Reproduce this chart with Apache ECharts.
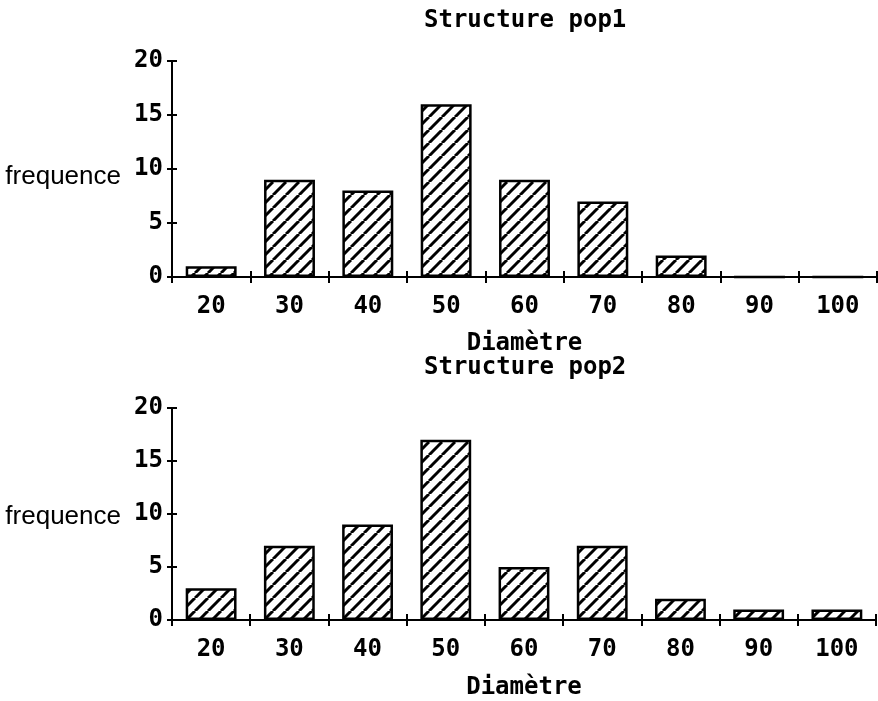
<!DOCTYPE html>
<html>
<head>
<meta charset="utf-8">
<script src="https://cdn.jsdelivr.net/npm/echarts@6/dist/echarts.min.js"></script>
<style>
  html, body { margin: 0; padding: 0; background: #fff; }
  #chart { width: 878px; height: 701px; }
</style>
</head>
<body>
<div id="chart"></div>
<script>
// Diameter classes and frequency counts for the two populations
const diametres = ['20', '30', '40', '50', '60', '70', '80', '90', '100'];
const pop1 = [1, 9, 8, 16, 9, 7, 2, 0, 0];
const pop2 = [3, 7, 9, 17, 5, 7, 2, 1, 1];
const titres = ['Structure pop1', 'Structure pop2'];
const nomX = 'Diamètre';
const nomY = 'frequence';

const MONO = '"DejaVu Sans Mono", monospace';

// Diagonal "/" hatch tile used to fill the bars
function hatchTile() {
  const s = 13;
  const c = document.createElement('canvas');
  c.width = s; c.height = s;
  const g = c.getContext('2d');
  g.fillStyle = '#fff';
  g.fillRect(0, 0, s, s);
  g.strokeStyle = '#000';
  g.lineWidth = 3;
  for (let k = -1; k <= 1; k++) {
    g.beginPath();
    g.moveTo(k * s, s);
    g.lineTo(k * s + s, 0);
    g.stroke();
  }
  return c;
}
const hatch = { image: hatchTile(), repeat: 'repeat' };

const grids = [
  { left: 172, right: 1, top: 61, height: 216 },
  { left: 172, right: 2, top: 408, height: 214 }
];

const xAxes = [], yAxes = [], series = [], titles = [];
const datasets = [pop1, pop2];
const nameGaps = [55, 56];
const yNameLH = [16, 6];
const titleTops = [8, 355];
const hidden = { show: true, lineStyle: { color: 'rgba(0,0,0,0)', width: 0 } };

grids.forEach((gr, i) => {
  // main category axis: line, outward ticks, labels, name
  xAxes.push({
    type: 'category', gridIndex: i, data: diametres, position: 'bottom',
    axisLine: { show: true, lineStyle: { color: '#000', width: 2 } },
    axisTick: { show: true, length: 6, lineStyle: { color: '#000', width: 2 } },
    axisLabel: { color: '#000', fontFamily: MONO, fontWeight: 'bold', fontSize: 24, margin: 18 },
    splitLine: { show: false },
    name: nomX, nameLocation: 'middle', nameGap: nameGaps[i],
    nameTextStyle: { color: '#000', fontFamily: MONO, fontWeight: 'bold', fontSize: 24 }
  });
  // inward half of the crossing ticks
  xAxes.push({
    type: 'category', gridIndex: i, data: diametres, position: 'bottom',
    axisLine: hidden,
    axisTick: { show: true, inside: true, length: 6, lineStyle: { color: '#000', width: 2 } },
    axisLabel: { show: false }, splitLine: { show: false }
  });
  yAxes.push({
    type: 'value', gridIndex: i, min: 0, max: 20, interval: 5, position: 'left',
    axisLine: { show: true, lineStyle: { color: '#000', width: 2 } },
    axisTick: { show: true, length: 5, lineStyle: { color: '#000', width: 2 } },
    axisLabel: { color: '#000', fontFamily: MONO, fontWeight: 'bold', fontSize: 24, margin: 9 },
    splitLine: { show: false },
    name: nomY, nameLocation: 'middle', nameRotate: 0, nameGap: 51,
    nameTextStyle: {
      color: '#000', fontFamily: '"Liberation Sans", Arial, sans-serif', fontSize: 26,
      verticalAlign: 'top', lineHeight: yNameLH[i]
    }
  });
  yAxes.push({
    type: 'value', gridIndex: i, min: 0, max: 20, interval: 5, position: 'left',
    axisLine: hidden,
    axisTick: { show: true, inside: true, length: 5, lineStyle: { color: '#000', width: 2 } },
    axisLabel: { show: false }, splitLine: { show: false }
  });
  series.push({
    type: 'bar', xAxisIndex: i * 2, yAxisIndex: i * 2,
    data: datasets[i], barWidth: '65%',
    itemStyle: { color: hatch, borderColor: '#000', borderWidth: 2.5 }
  });
  titles.push({
    text: titres[i], left: 424, top: titleTops[i], padding: 0,
    textStyle: { color: '#000', fontFamily: MONO, fontWeight: 'bold', fontSize: 24, lineHeight: 26 }
  });
});

const chart = echarts.init(document.getElementById('chart'), null, { renderer: 'canvas' });
chart.setOption({
  backgroundColor: '#fff',
  animation: false,
  title: titles,
  grid: grids,
  xAxis: xAxes,
  yAxis: yAxes,
  series: series
});
</script>
</body>
</html>
